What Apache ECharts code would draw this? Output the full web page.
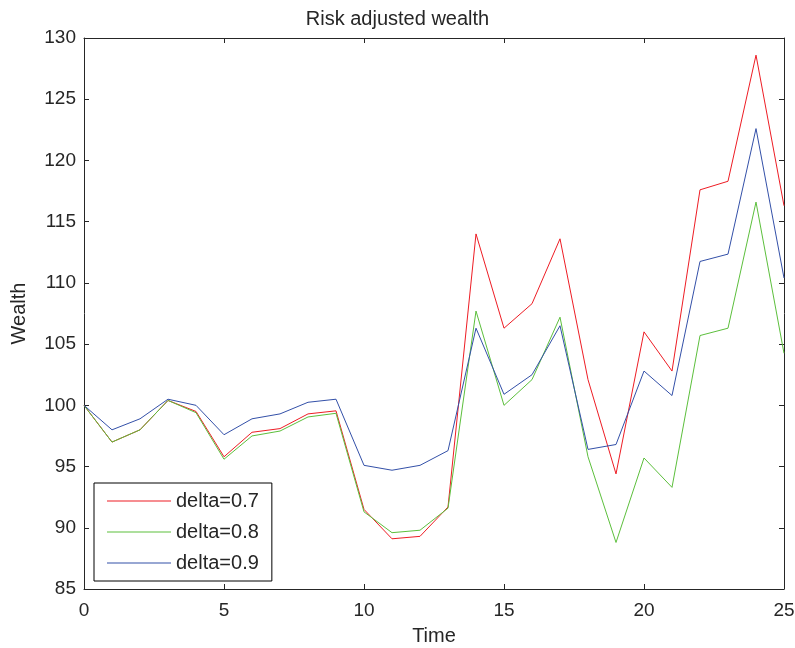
<!DOCTYPE html>
<html>
<head>
<meta charset="utf-8">
<title>Risk adjusted wealth</title>
<script src="https://cdn.jsdelivr.net/npm/echarts@6/dist/echarts.min.js"></script>
<style>
  html, body { margin: 0; padding: 0; background: #fff; }
  #chart { width: 795px; height: 648px; }
</style>
</head>
<body>
<div id="chart"></div>
<script>
// time steps on the x axis
var timeSteps = [0, 1, 2, 3, 4, 5, 6, 7, 8, 9, 10, 11, 12, 13, 14, 15, 16, 17, 18, 19, 20, 21, 22, 23, 24, 25]
// wealth per delta
var delta07 = [100, 97.0, 98.0, 100.4, 99.5, 95.8, 97.8, 98.1, 99.3, 99.55, 91.5, 89.1, 89.3, 91.7, 114.0, 106.3, 108.3, 113.6, 102.1, 94.4, 106.0, 102.8, 117.6, 118.3, 128.6, 116.3]
var delta08 = [100, 97.0, 98.0, 100.4, 99.4, 95.6, 97.5, 97.9, 99.05, 99.35, 91.3, 89.6, 89.8, 91.6, 107.7, 100.0, 102.1, 107.2, 95.8, 88.8, 95.7, 93.3, 105.7, 106.3, 116.6, 104.25]
var delta09 = [100, 98.0, 98.9, 100.5, 100.0, 97.6, 98.9, 99.3, 100.25, 100.5, 95.1, 94.7, 95.1, 96.3, 106.3, 100.9, 102.5, 106.5, 96.4, 96.8, 102.8, 100.8, 111.75, 112.35, 122.6, 110.4]
var legendNames = ['delta=0.7', 'delta=0.8', 'delta=0.9']
var lineColors = ['#ee1c24', '#5cbf3c', '#3350a8']

var axisColor = '#262626'
var fontName = 'Liberation Sans'

function pairs (ys) {
  var out = []
  for (var i = 0; i < timeSteps.length; i++) {
    out.push([timeSteps[i], ys[i]])
  }
  return out
}

var allData = [delta07, delta08, delta09]
var series = []
for (var i = 0; i < allData.length; i++) {
  series.push({
    name: legendNames[i],
    type: 'line',
    xAxisIndex: 0,
    yAxisIndex: 0,
    data: pairs(allData[i]),
    showSymbol: false,
    symbol: 'none',
    color: lineColors[i],
    lineStyle: { width: 1, color: lineColors[i] },
    animation: false
  })
}

// shared look for the box axes (ticks inside, MATLAB style)
function boxAxis (extra) {
  var ax = {
    type: 'value',
    splitLine: { show: false },
    axisLine: { show: true, onZero: false, lineStyle: { color: axisColor, width: 1 } },
    axisTick: { show: true, inside: true, length: 5, lineStyle: { color: axisColor } },
    axisLabel: { show: false }
  }
  for (var k in extra) ax[k] = extra[k]
  return ax
}

var option = {
  backgroundColor: '#fff',
  animation: false,
  title: {
    text: 'Risk adjusted wealth',
    left: 'center',
    top: 4,
    textStyle: { fontFamily: fontName, fontSize: 20, fontWeight: 'normal', color: axisColor }
  },
  grid: { left: 84, right: 11, top: 38, bottom: 59, containLabel: false, outerBoundsMode: 'none' },
  legend: {
    data: legendNames,
    orient: 'vertical',
    left: 94,
    top: 483,
    icon: 'rect',
    itemWidth: 64,
    itemHeight: 1,
    itemGap: 11,
    padding: [8, 13, 8, 13],
    borderColor: '#000',
    borderWidth: 1,
    backgroundColor: '#fff',
    textStyle: { fontFamily: fontName, fontSize: 20, lineHeight: 19, color: axisColor }
  },
  xAxis: [
    boxAxis({
      position: 'bottom',
      min: 0,
      max: 25,
      interval: 5,
      name: 'Time',
      nameLocation: 'middle',
      nameGap: 37,
      nameTextStyle: { fontFamily: fontName, fontSize: 20, color: axisColor },
      axisLabel: { show: true, margin: 12, fontFamily: fontName, fontSize: 19, color: axisColor }
    }),
    boxAxis({ position: 'top', min: 0, max: 25, interval: 5 })
  ],
  yAxis: [
    boxAxis({
      position: 'left',
      min: 85,
      max: 130,
      interval: 5,
      name: 'Wealth',
      nameLocation: 'middle',
      nameGap: 55,
      nameTextStyle: { fontFamily: fontName, fontSize: 20, color: axisColor },
      axisLabel: { show: true, margin: 8, fontFamily: fontName, fontSize: 19, color: axisColor }
    }),
    boxAxis({ position: 'right', min: 85, max: 130, interval: 5 })
  ],
  series: series
}

var myChart = echarts.init(document.getElementById('chart'), null, { renderer: 'canvas' })
myChart.setOption(option)
</script>
</body>
</html>
